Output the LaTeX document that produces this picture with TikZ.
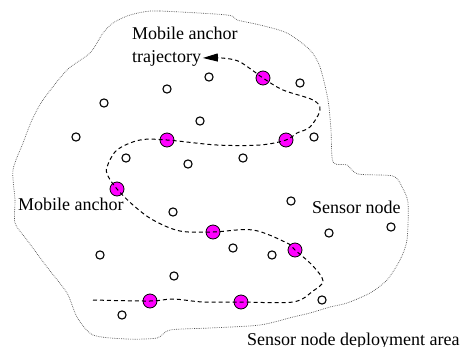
\documentclass[tikz,border=0pt]{standalone}
\usepackage{fontspec}
\setmainfont{Liberation Serif}
\usetikzlibrary{arrows.meta}
\definecolor{anchormag}{RGB}{255,0,255}
\begin{document}
\begin{tikzpicture}[x=1pt,y=-1pt,
  sensor/.style={circle,draw,line width=1.1pt,minimum size=8.2pt,inner sep=0pt},
  anchorpt/.style={circle,draw,fill=anchormag,line width=0.8pt,minimum size=14pt,inner sep=0pt},
  lbl/.style={inner sep=0pt,anchor=base west,font=\fontsize{18}{22}\selectfont},
  traj/.style={dash pattern=on 4pt off 3pt,line width=1pt},
  area/.style={dash pattern=on 0.7pt off 1.1pt,line width=0.7pt,black!70}]
\useasboundingbox (0,0) rectangle (461,346);
% deployment area
\draw[area] plot[smooth cycle,tension=0.45] coordinates {
 (143,12) (160,11) (227,15) (237,20) (260,25) (287,33) (310,50) (320,67)
 (328,100) (331,130) (333,162) (347,165) (358,174) (393,176) (402,187)
 (408,203) (407,240) (400,260) (387,280) (370,293) (347,303) (330,307)
 (310,313) (293,317) (260,325) (210,328) (170,330) (157,338) (127,339)
 (93,335) (77,317) (67,293) (47,267) (27,240) (15,223) (15,200) (13,170)
 (23,143) (32,120) (43,100) (67,70) (90,53) (103,33) (113,23) (127,16)};
% sensor nodes
\node[sensor] (s1) at (209,77) {};
\node[sensor] (s2) at (167,89) {};
\node[sensor] (s3) at (104,103) {};
\node[sensor] (s4) at (300,83) {};
\node[sensor] (s5) at (200,121) {};
\node[sensor] (s6) at (76,137) {};
\node[sensor] (s7) at (314,137) {};
\node[sensor] (s8) at (126,158) {};
\node[sensor] (s9) at (188,164) {};
\node[sensor] (s10) at (243,158) {};
\node[sensor] (s11) at (173,212) {};
\node[sensor] (s12) at (291,201) {};
\node[sensor] (s13) at (329,233) {};
\node[sensor] (s14) at (391,227) {};
\node[sensor] (s15) at (100,255) {};
\node[sensor] (s16) at (233,248) {};
\node[sensor] (s17) at (272,255) {};
\node[sensor] (s18) at (174,276) {};
\node[sensor] (s19) at (322,300) {};
\node[sensor] (s20) at (122,315) {};
% mobile anchor positions
\node[anchorpt] (a1) at (263,78) {};
\node[anchorpt] (a2) at (286,140) {};
\node[anchorpt] (a3) at (167,140) {};
\node[anchorpt] (a4) at (117,189) {};
\node[anchorpt] (a5) at (213,232) {};
\node[anchorpt] (a6) at (295,250) {};
\node[anchorpt] (a7) at (241,302) {};
\node[anchorpt] (a8) at (150,301) {};
% labels
\node[lbl] (traj1) at (132,39) {Mobile anchor};
\node[lbl] (traj2) at (132,62) {trajectory};
\node[lbl] (lanchor) at (18,210) {Mobile anchor};
\node[lbl] (lsensor) at (312,213) {Sensor node};
\node[lbl] (larea) at (247,345) {Sensor node deployment area};
\coordinate (start) at (93,300);
\coordinate (tip) at ([xshift=1.5pt]traj2.east);
% trajectory
\draw[traj,-{Triangle[length=15pt,width=8pt]}] plot[smooth,tension=0.55] coordinates {
 (start) (a8.center) (173,299) (203,302) (a7.center) (293,302) (313,291)
 (323,281) (313,266) (a6.center) (287,243) (253,230) (a5.center) (180,231)
 (153,220) (133,205) (a4.center) (108,176) (107,167) (117,150) (140,140)
 (a3.center) (217,145) (260,145) (a2.center) (297,133) (310,127) (320,110)
 (313,100) (283,90) (a1.center) (252,70) (238,61) (222,58) (tip)};
\end{tikzpicture}
\end{document}
